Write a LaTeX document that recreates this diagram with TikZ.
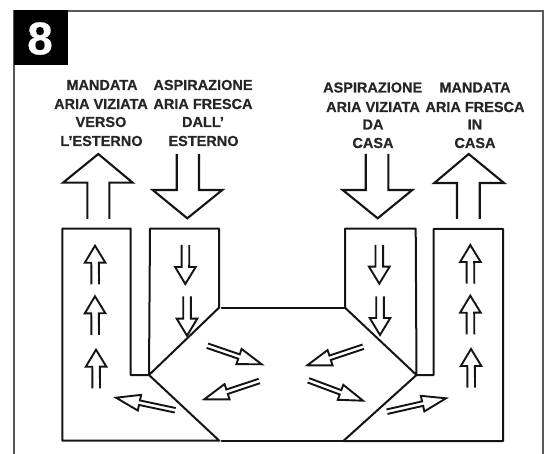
\documentclass[tikz,border=0pt]{standalone}
\usepackage{fontspec}
\setmainfont{Liberation Sans}[BoldFeatures={FakeBold=0.4}]
\usetikzlibrary{calc}
\tikzset{
  frameline/.style={draw=black!65,line width=1.2pt},
  duct/.style={draw=black!92,line width=2pt,line join=round,line cap=round},
  flowline/.style={draw=black!92,line width=1.9pt,line join=miter},
  bigflow/.style={flowline,line width=2.1pt},
  caption/.style={font=\bfseries\fontsize{14.5}{14.5}\selectfont,text=black!85,inner sep=0pt,anchor=center}
}
% \airflow{tip}{tail}{head length}{head half width}{stem half width}
\newcommand\airflow[5]{%
  \coordinate (fb) at ($(#1)!#3pt!(#2)$);
  \draw[flowline]
    ($(#2)!#5pt!90:(#1)$) -- ($(fb)!#5pt!90:(#1)$) -- ($(fb)!#4pt!90:(#1)$) -- (#1)
    -- ($(fb)!#4pt!-90:(#1)$) -- ($(fb)!#5pt!-90:(#1)$) -- ($(#2)!#5pt!-90:(#1)$);
}
\newcommand\smallup[2]{\airflow{#1}{#2}{17}{10.3}{3.8}}
\newcommand\diag[2]{\airflow{#1}{#2}{24}{8}{2.3}}
\begin{document}
\begin{tikzpicture}[x=1pt,y=-1pt]
\useasboundingbox (0,0) rectangle (549,454);
\fill[white] (0,0) rectangle (549,454);
% frame
\draw[frameline] (14,454) -- (14,11) -- (543,11) -- (543,454);
\fill[black] (13.5,10.5) rectangle (68,65);
\node[font=\bfseries\fontsize{46}{46}\selectfont,text=white,inner sep=0pt] (num) at (40,38.5) {8};
% captions
\node[caption] (c1a) at (102,85) {MANDATA};
\node[caption] (c1b) at (101,104) {ARIA VIZIATA};
\node[caption] (c1c) at (101,122) {VERSO};
\node[caption] (c1d) at (101.5,141) {L’ESTERNO};
\node[caption] (c2a) at (203,85) {ASPIRAZIONE};
\node[caption] (c2b) at (203,104) {ARIA FRESCA};
\node[caption] (c2c) at (203,122) {DALL’};
\node[caption] (c2d) at (203.5,141) {ESTERNO};
\node[caption] (c3a) at (372.7,87.5) {ASPIRAZIONE};
\node[caption] (c3b) at (373,107) {ARIA VIZIATA};
\node[caption] (c3c) at (373,124.5) {DA};
\node[caption] (c3d) at (373,143) {CASA};
\node[caption] (c4a) at (475,87.5) {MANDATA};
\node[caption] (c4b) at (475,107) {ARIA FRESCA};
\node[caption] (c4c) at (475,124.5) {IN};
\node[caption] (c4d) at (475,143) {CASA};
% big arrows
\draw[bigflow] (87.3,219) -- (87.3,182.7) -- (63,182.7) -- (98.3,154) -- (132.7,182.7) -- (109.3,182.7) -- (109.3,219);
\draw[bigflow] (176.7,154) -- (176.7,190) -- (152.7,190) -- (187.3,218.3) -- (222.3,190) -- (199,190) -- (199,154);
\draw[bigflow] (365.7,154) -- (365.7,190) -- (342.7,190) -- (377.7,218.3) -- (412.3,190) -- (388.3,190) -- (388.3,154);
\draw[bigflow] (457,219) -- (457,183) -- (434.3,183) -- (468.7,154) -- (504,183) -- (479.7,183) -- (479.7,219);
% ducts
\draw[duct] (149,375) -- (130.7,375) -- (130.7,228.7) -- (62.3,228.7) -- (62.3,440.7) -- (219.3,440.7) -- cycle;
\draw[duct] (149,375) -- (150,228.7) -- (219,228.7) -- (219,307.7) -- cycle;
\draw[duct] (221.7,307.7) -- (345,307.7);
\draw[duct] (221.5,441) -- (343.3,441);
\draw[duct] (416.5,375) -- (415.7,228.7) -- (345,228.7) -- (345,307.7) -- cycle;
\draw[duct] (416.5,375) -- (433.7,375) -- (433.7,229) -- (503,229) -- (503,441) -- (343.3,441) -- cycle;
% small arrows
\coordinate (a1t) at (95,245.7); \coordinate (a1b) at (95.2,284.3);
\coordinate (a2t) at (95,296.3); \coordinate (a2b) at (95.2,335);
\coordinate (a3t) at (96,349.7); \coordinate (a3b) at (96.2,388.3);
\coordinate (b1t) at (185.3,284); \coordinate (b1b) at (185.5,245);
\coordinate (b2t) at (187,335.7); \coordinate (b2b) at (187,296.3);
\coordinate (d1t) at (470.3,245); \coordinate (d1b) at (470.5,283.7);
\coordinate (d2t) at (470.3,295.7); \coordinate (d2b) at (470.5,334.3);
\coordinate (d3t) at (471,349); \coordinate (d3b) at (471.2,387.7);
\coordinate (e1t) at (379.3,283.7); \coordinate (e1b) at (379.3,245);
\coordinate (e2t) at (380,335); \coordinate (e2b) at (380,296.3);
\smallup{a1t}{a1b}\smallup{a2t}{a2b}\smallup{a3t}{a3b}
\smallup{b1t}{b1b}\smallup{b2t}{b2b}
\smallup{d1t}{d1b}\smallup{d2t}{d2b}\smallup{d3t}{d3b}
\smallup{e1t}{e1b}\smallup{e2t}{e2b}
\coordinate (c1t) at (261.7,364.3); \coordinate (c1b) at (207.3,345.7);
\coordinate (c2t) at (204.3,399.3); \coordinate (c2b) at (259.3,381);
\coordinate (c3t) at (116,397.7); \coordinate (c3b) at (175.3,410.3);
\coordinate (f1t) at (307.3,365.3); \coordinate (f1b) at (363.3,346.7);
\coordinate (f2t) at (363,400.7); \coordinate (f2b) at (308.3,380.3);
\coordinate (f3t) at (446,398.3); \coordinate (f3b) at (387,411.7);
\diag{c1t}{c1b}\diag{c2t}{c2b}\diag{c3t}{c3b}
\diag{f1t}{f1b}\diag{f2t}{f2b}\diag{f3t}{f3b}
\end{tikzpicture}
\end{document}
